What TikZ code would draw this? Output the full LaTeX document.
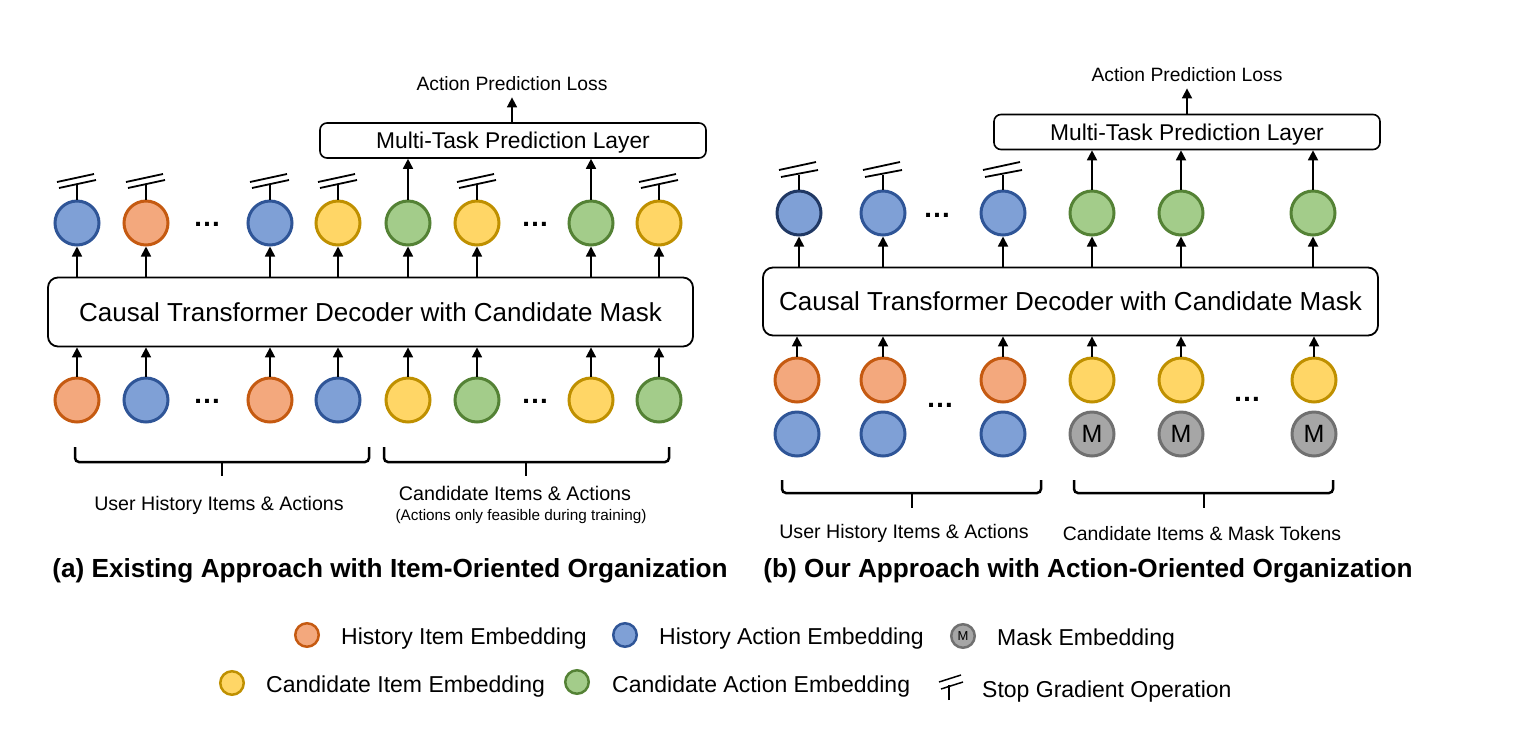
\documentclass[tikz,border=0pt]{standalone}
\usepackage{fontspec}
\setmainfont{Liberation Sans}
\usetikzlibrary{arrows.meta,calc}
\definecolor{orF}{RGB}{243,168,125}
\definecolor{orD}{RGB}{197,90,17}
\definecolor{blF}{RGB}{127,160,214}
\definecolor{blD}{RGB}{47,85,151}
\definecolor{blDD}{RGB}{32,56,100}
\definecolor{yeF}{RGB}{255,214,102}
\definecolor{yeD}{RGB}{191,144,0}
\definecolor{grF}{RGB}{163,204,138}
\definecolor{grD}{RGB}{84,130,53}
\definecolor{gyF}{RGB}{166,166,166}
\definecolor{gyD}{RGB}{112,112,112}
\newcommand{\fs}[1]{\fontsize{#1}{#1}\selectfont}
\begin{document}
\begin{tikzpicture}[x=1pt,y=-1pt,
  emb/.style={circle, line width=3pt, minimum size=44pt, inner sep=0pt},
  hitem/.style={emb, draw=orD, fill=orF},
  hact/.style={emb, draw=blD, fill=blF},
  citem/.style={emb, draw=yeD, fill=yeF},
  cact/.style={emb, draw=grD, fill=grF},
  maskemb/.style={emb, draw=gyD, fill=gyF, font=\fs{25}},
  lgd/.style={circle, line width=2.5pt, minimum size=23.5pt, inner sep=0pt},
  arr/.style={line width=1.7pt, -{Triangle[width=10pt,length=10pt]}},
  sg/.style={line width=1.8pt},
  txt/.style={inner sep=0pt},
  dec/.style={draw, line width=1.8pt, rounded corners=10pt, font=\fs{26}, text height=18.6pt, text depth=0pt},
  mtl/.style={draw, line width=1.6pt, rounded corners=7pt, font=\fs{22.8}, text height=16.3pt, text depth=0pt, minimum width=386pt, minimum height=35pt},
  brc/.style={line width=2.5pt, rounded corners=4pt},
  dots/.style={inner sep=0pt, font=\bfseries\fs{28}}
]
\useasboundingbox (0,0) rectangle (1518,732);

% ---------------- (a) ----------------
\node[txt, anchor=base, font=\fs{19.3}] (lossA) at (512,90) {Action Prediction Loss};
\node[mtl] (mtA) at (513,140.5) {Multi-Task Prediction Layer};
\node[dec, minimum width=645pt, minimum height=69pt] (decA) at (370.5,312) {Causal Transformer Decoder with Candidate Mask};

\node[hact]  (tA1) at (77,223) {};
\node[hitem] (tA2) at (146,223) {};
\node[hact]  (tA3) at (270,223) {};
\node[citem] (tA4) at (338,223) {};
\node[cact]  (tA5) at (408,223) {};
\node[citem] (tA6) at (477,223) {};
\node[cact]  (tA7) at (591,223) {};
\node[citem] (tA8) at (659,223) {};

\node[hitem] (bA1) at (77,400) {};
\node[hact]  (bA2) at (146,400) {};
\node[hitem] (bA3) at (270,400) {};
\node[hact]  (bA4) at (338,400) {};
\node[citem] (bA5) at (408,400) {};
\node[cact]  (bA6) at (477,400) {};
\node[citem] (bA7) at (591,400) {};
\node[cact]  (bA8) at (659,400) {};

\node[dots] (dA1) at (207,224) {…};
\node[dots] (dA2) at (535,224) {…};
\node[dots] (dA3) at (207,401) {…};
\node[dots] (dA4) at (535,401) {…};

\foreach \i in {1,...,8} {
  \draw[arr] (bA\i.north) -- (decA.south -| bA\i);
  \draw[arr] (decA.north -| tA\i) -- (tA\i.south);
}
\foreach \i in {5,7} { \draw[arr] (tA\i.north) -- (mtA.south -| tA\i); }
\draw[arr, shorten >=7pt] (mtA.north -| lossA) -- (lossA.south);

\foreach \n in {tA1,tA2,tA3,tA4,tA6,tA8} {
  \draw[sg] (\n.north) -- ++(0,-15);
  \draw[sg] ($(\n.center)+(-18,-35)$) -- ++(37,-8);
  \draw[sg] ($(\n.center)+(-20,-41)$) -- ++(37,-8);
}

\coordinate (brA1l) at (75,447);
\coordinate (brA1r) at (369,447);
\coordinate (brA2l) at (384,447);
\coordinate (brA2r) at (669,447);
\draw[brc] (brA1l) -- ++(0,15) -- (brA1r |- 0,462) -- (brA1r);
\draw[brc] (222,462) -- (222,476);
\draw[brc] (brA2l) -- ++(0,15) -- (brA2r |- 0,462) -- (brA2r);
\draw[brc] (526,462) -- (526,476);

\node[txt, anchor=base, font=\fs{19.6}] (uhA) at (219,510) {User History Items \& Actions};
\node[txt, anchor=base, font=\fs{19.7}] (ciA) at (515,500) {Candidate Items \& Actions};
\node[txt, anchor=base, font=\fs{15.3}] (noteA) at (521,520) {(Actions only feasible during training)};

\node[txt, anchor=base, font=\bfseries\fs{26.2}] (titleA) at (390,577) {(a) Existing Approach with Item-Oriented Organization};

% ---------------- (b) ----------------
\node[txt, anchor=base, font=\fs{19.3}] (lossB) at (1187,81) {Action Prediction Loss};
\node[mtl] (mtB) at (1187,132) {Multi-Task Prediction Layer};
\node[dec, minimum width=615pt, minimum height=68pt] (decB) at (1070.5,301.5) {Causal Transformer Decoder with Candidate Mask};

\node[hact, draw=blDD] (tB1) at (799,213) {};
\node[hact]  (tB2) at (883,213) {};
\node[hact]  (tB3) at (1003,213) {};
\node[cact]  (tB4) at (1092,213) {};
\node[cact]  (tB5) at (1181,213) {};
\node[cact]  (tB6) at (1313,213) {};

\node[hitem] (uB1) at (797,380) {};
\node[hitem] (uB2) at (883,380) {};
\node[hitem] (uB3) at (1003,380) {};
\node[citem] (uB4) at (1092,380) {};
\node[citem] (uB5) at (1181,380) {};
\node[citem] (uB6) at (1314,380) {};

\node[hact]  (lB1) at (797,434) {};
\node[hact]  (lB2) at (883,434) {};
\node[hact]  (lB3) at (1003,434) {};
\node[maskemb] (lB4) at (1092,434) {M};
\node[maskemb] (lB5) at (1181,434) {M};
\node[maskemb] (lB6) at (1314,434) {M};

\node[dots] (dB1) at (937,215) {…};
\node[dots] (dB2) at (940,405) {…};
\node[dots] (dB3) at (1247,399) {…};

\foreach \i in {1,...,6} {
  \draw[arr] (uB\i.north) -- (decB.south -| uB\i);
  \draw[arr] (decB.north -| tB\i) -- (tB\i.south);
}
\foreach \i in {4,5,6} { \draw[arr] (tB\i.north) -- (mtB.south -| tB\i); }
\draw[arr, shorten >=7pt] (mtB.north -| lossB) -- (lossB.south);

\foreach \n in {tB1,tB2,tB3} {
  \draw[sg] (\n.north) -- ++(0,-15);
  \draw[sg] ($(\n.center)+(-18,-36)$) -- ++(37,-7);
  \draw[sg] ($(\n.center)+(-20,-43)$) -- ++(37,-8);
}

\coordinate (brB1l) at (782,480);
\coordinate (brB1r) at (1041,480);
\coordinate (brB2l) at (1074,480);
\coordinate (brB2r) at (1333,480);
\draw[brc] (brB1l) -- ++(0,13) -- (brB1r |- 0,493) -- (brB1r);
\draw[brc] (912,493) -- (912,508);
\draw[brc] (brB2l) -- ++(0,13) -- (brB2r |- 0,493) -- (brB2r);
\draw[brc] (1204,493) -- (1204,508);

\node[txt, anchor=base, font=\fs{19.6}] (uhB) at (904,538) {User History Items \& Actions};
\node[txt, anchor=base, font=\fs{19.4}] (ciB) at (1202,540) {Candidate Items \& Mask Tokens};

\node[txt, anchor=base, font=\bfseries\fs{26.2}] (titleB) at (1088,577) {(b) Our Approach with Action-Oriented Organization};

% ---------------- legend ----------------
\node[lgd, draw=orD, fill=orF] (lg1) at (307,635) {};
\node[txt, anchor=base west, font=\fs{23}] (lt1) at (341,644) {History Item Embedding};
\node[lgd, draw=blD, fill=blF] (lg2) at (625,635) {};
\node[txt, anchor=base west, font=\fs{23}] (lt2) at (659,644) {History Action Embedding};
\node[lgd, draw=gyD, fill=gyF, font=\fs{13}] (lg3) at (963,636) {M};
\node[txt, anchor=base west, font=\fs{23}] (lt3) at (997,645) {Mask Embedding};

\node[lgd, draw=yeD, fill=yeF] (lg4) at (232,683) {};
\node[txt, anchor=base west, font=\fs{23}] (lt4) at (266,692) {Candidate Item Embedding};
\node[lgd, draw=grD, fill=grF] (lg5) at (577,682) {};
\node[txt, anchor=base west, font=\fs{23}] (lt5) at (612,692) {Candidate Action Embedding};
\coordinate (sgl) at (949,700);
\draw[sg, line width=1.5pt] (sgl) -- ++(0,-15);
\draw[sg, line width=1.5pt] (941,689) -- (963,682);
\draw[sg, line width=1.5pt] (939,682) -- (961,675);
\node[txt, anchor=base west, font=\fs{23}] (lt6) at (982,697) {Stop Gradient Operation};
\end{tikzpicture}
\end{document}
